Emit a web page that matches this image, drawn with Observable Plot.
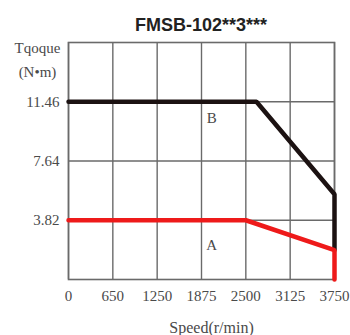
<!DOCTYPE html>
<html>
<head>
<meta charset="utf-8">
<script src="https://cdn.jsdelivr.net/npm/d3@7"></script>
<script src="https://cdn.jsdelivr.net/npm/@observablehq/plot@0.6"></script>
<style>
  html, body { margin: 0; padding: 0; background: #fff; }
  #wrap { position: relative; width: 350px; height: 335px; overflow: hidden; }
  #title { position: absolute; left: 68px; width: 266px; top: 14px; text-align: center;
           font-family: "Liberation Sans", Arial, sans-serif; font-size: 18px; font-weight: bold;
           line-height: 22px; color: #222; }
  #chart { position: absolute; left: 0; top: 0; }
  #chart svg text { font-family: "Liberation Serif", "DejaVu Serif", serif; }
</style>
</head>
<body>
<div id="wrap">
  <div id="chart"></div>
  <div id="title">FMSB-102**3***</div>
</div>
<script>
// ---- data ----
const speedTicks = [0, 625, 1250, 1875, 2500, 3125, 3750];
const speedTickLabels = ["0", "650", "1250", "1875", "2500", "3125", "3750"];
const torqueTicks = [3.82, 7.64, 11.46];
const torqueMax = 15.28;

const curveBSpeed  = [0, 2650, 3750, 3750];
const curveBTorque = [11.46, 11.46, 5.5, 1.9];
const curveASpeed  = [0, 2500, 3750, 3750];
const curveATorque = [3.82, 3.82, 1.9, 0];

const regionLabels = ["A", "B"];
const regionLabelSpeed = [2020, 2020];
const regionLabelTorque = [2.2, 10.4];

const yTitle = ["Tqoque", "(N•m)"];
const xTitle = "Speed(r/min)";

// ---- build ----
const curveB = curveBSpeed.map((s, i) => ({speed: s, torque: curveBTorque[i]}));
const curveA = curveASpeed.map((s, i) => ({speed: s, torque: curveATorque[i]}));
const labels = regionLabels.map((t, i) => ({name: t, speed: regionLabelSpeed[i], torque: regionLabelTorque[i]}));

const serif = "Liberation Serif";
const gridColor = "#6a6a6a";
const textColor = "#4a4a4a";

const chart = Plot.plot({
  width: 350,
  height: 335,
  marginTop: 42,
  marginBottom: 56,
  marginLeft: 68,
  marginRight: 16,
  style: {fontFamily: serif, background: "#fff"},
  x: {domain: [0, 3750]},
  y: {domain: [0, torqueMax]},
  marks: [
    Plot.gridX(speedTicks, {stroke: gridColor, strokeOpacity: 1, strokeWidth: 1.4}),
    Plot.gridY(torqueTicks, {stroke: gridColor, strokeOpacity: 1, strokeWidth: 1.4}),
    Plot.frame({stroke: gridColor, strokeWidth: 1.6}),
    Plot.axisX(speedTicks, {
      tickSize: 0, tickPadding: 11, fontSize: 15, fill: textColor, label: null, fontFamily: serif,
      tickFormat: (d) => speedTickLabels[speedTicks.indexOf(d)]
    }),
    Plot.axisY(torqueTicks, {
      tickSize: 0, tickPadding: 9, fontSize: 15, fill: textColor, label: null, fontFamily: serif,
      tickFormat: d => d.toFixed(2), style: {letterSpacing: "1.5px"}
    }),
    Plot.line(curveB, {x: "speed", y: "torque", stroke: "#1c1212", strokeWidth: 4.5, strokeLinejoin: "miter"}),
    Plot.line(curveA, {x: "speed", y: "torque", stroke: "#ee1a1a", strokeWidth: 4.5, strokeLinejoin: "miter"}),
    Plot.text(labels, {x: "speed", y: "torque", text: "name", fontSize: 15, fill: textColor, fontFamily: serif}),
    Plot.text([yTitle[0]], {frameAnchor: "top-left", dx: -31, dy: 6, lineAnchor: "middle", text: d => d, textAnchor: "middle", fontSize: 15, fill: textColor, fontFamily: serif}),
    Plot.text([yTitle[1]], {frameAnchor: "top-left", dx: -31, dy: 30, lineAnchor: "middle", text: d => d, textAnchor: "middle", fontSize: 15, fill: textColor, fontFamily: serif}),
    Plot.text([xTitle], {frameAnchor: "bottom", dx: 10, dy: 48, lineAnchor: "middle", text: d => d, textAnchor: "middle", fontSize: 16, fill: textColor, fontFamily: serif, style: {letterSpacing: "1px"}})
  ]
});
document.getElementById("chart").appendChild(chart);
</script>
</body>
</html>
